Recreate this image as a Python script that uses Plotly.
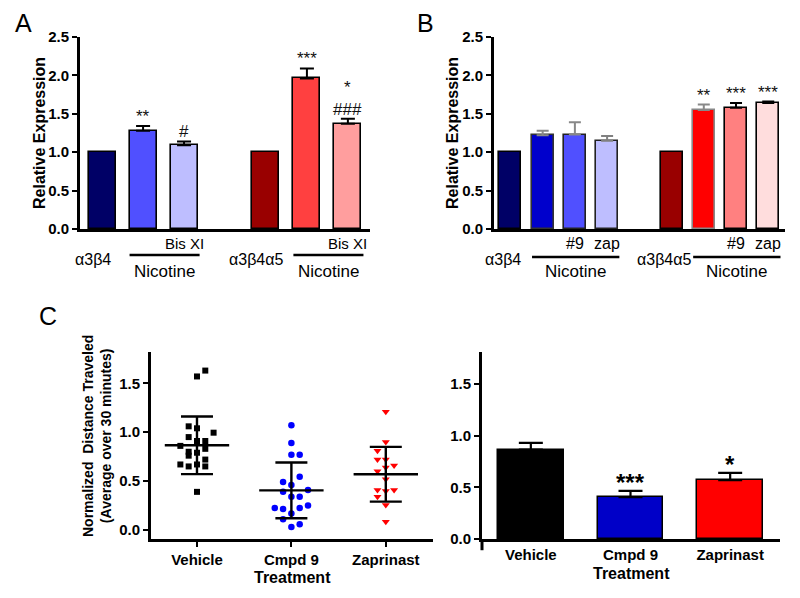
import plotly.graph_objects as go

W, H = 800, 598
FONT = "Liberation Sans, Arial, sans-serif"


def px(x):
    return x / W


def py(y):
    return 1 - y / H


# ---------------- data ----------------
# Panel A
a_groups = ["α3β4", "α3β4α5"]
a_sub = ["", "", "Bis XI", "", "", "Bis XI"]
a_values = [1.00, 1.28, 1.09, 1.00, 1.96, 1.37]
a_err = [0.0, 0.06, 0.05, 0.0, 0.13, 0.065]
a_sig = ["", "**", "#", "", "***", "*<br>###"]

# Panel B
b_groups = ["α3β4", "α3β4α5"]
b_sub = ["", "", "#9", "zap", "", "", "#9", "zap"]
b_values = [1.00, 1.22, 1.23, 1.15, 1.00, 1.55, 1.58, 1.64]
b_err = [0.0, 0.06, 0.16, 0.06, 0.0, 0.07, 0.06, 0.02]
b_sig = ["", "", "", "", "", "**", "***", "***"]

# Panel C
c_cats = ["Vehicle", "Cmpd 9", "Zaprinast"]
veh = [1.57, 1.63, 1.06, 1.04, 0.995, 0.95, 0.91, 0.91, 0.86, 0.83, 0.80, 0.79,
       0.76, 0.72, 0.67, 0.65, 0.67, 0.65, 0.39]
veh_slot = [0, 1, -1, 0, 2, -1, 0, 1, -2, 1, -1, 0, -1, 1, -2, -1, 0, 1, 0]
cmp9 = [1.07, 0.89, 0.77, 0.77, 0.545, 0.49, 0.46, 0.39, 0.41, 0.34, 0.34, 0.225,
        0.215, 0.225, 0.25, 0.17, 0.11, 0.06, 0.03]
cmp9_slot = [0, 0, 0, 1, 1, -1, 0, -1, 2, 0, 1, -2, -1, 1, 2, 0, -1, 1, 0]
zap = [1.21, 0.90, 0.81, 0.72, 0.72, 0.66, 0.64, 0.60, 0.52, 0.41, 0.40, 0.41,
       0.34, 0.255, 0.085]
zap_slot = [0, 0, -1, -1, 0, 1, 0, -1, 0, -1, 0, 1, -1, 0, 0]
c_mean = [0.866, 0.405, 0.57]
c_sd = [0.295, 0.285, 0.28]
c_sem = [0.065, 0.06, 0.07]
c_sig = ["", "***", "*"]

# ---------------- styles ----------------
a_colors = ["#000066", "#5050FF", "#BEBEFF", "#990000", "#FF4040", "#FF9E9E"]
a_edge = ["#000000"] * 6
a_errc = ["#000000"] * 6
b_colors = ["#000066", "#0000CC", "#5050FF", "#BEBEFF", "#990000", "#FF0000", "#FF8080", "#FFDDDD"]
b_edge = ["#000000", "#333333", "#222222", "#222222", "#000000", "#888888", "#000000", "#000000"]
b_errc = ["#000000", "#888888", "#888888", "#808080", "#000000", "#888888", "#000000", "#000000"]
c_bar_colors = ["#000000", "#0000C8", "#FF0000"]
jit = 0.088

fig = go.Figure()


def group_positions(n_groups, n_per):
    return [g * (n_per + 1) + i for g in range(n_groups) for i in range(n_per)]


def add_bar_panel(values, errs, colors, edges, errcs, xa, ya, capw, bw):
    n_per = len(values) // 2
    xs = group_positions(2, n_per)
    for x, v, e, c, ec, erc in zip(xs, values, errs, colors, edges, errcs):
        fig.add_trace(go.Bar(
            x=[x], y=[v], width=bw, xaxis=xa, yaxis=ya,
            marker=dict(color=c, line=dict(color=ec, width=1.6)),
            error_y=dict(type="data", array=[e], arrayminus=[0], symmetric=False,
                         visible=e > 0, color=erc, thickness=2, width=capw),
            showlegend=False, hoverinfo="skip"))
    return xs


xs_a = add_bar_panel(a_values, a_err, a_colors, a_edge, a_errc, "x", "y", 7, 0.66)
xs_b = add_bar_panel(b_values, b_err, b_colors, b_edge, b_errc, "x2", "y2", 6, 0.68)

# Panel C scatter
for i, (vals, slots, sym, col, size) in enumerate([
        (veh, veh_slot, "square", "#000000", 6),
        (cmp9, cmp9_slot, "circle", "#0000FF", 6.5),
        (zap, zap_slot, "triangle-down", "#FF0000", 7)]):
    fig.add_trace(go.Scatter(
        x=[i + s * jit for s in slots], y=vals, mode="markers",
        marker=dict(symbol=sym, color=col, size=size, line=dict(width=0)),
        xaxis="x3", yaxis="y3", showlegend=False, hoverinfo="skip"))

fig.add_trace(go.Scatter(
    x=list(range(len(c_cats))), y=c_mean, mode="markers",
    marker=dict(symbol="line-ew", size=46, color="#000000", line=dict(color="#000000", width=2.4)),
    error_y=dict(type="data", array=c_sd, color="#000000", thickness=2.4, width=16),
    xaxis="x3", yaxis="y3", showlegend=False, hoverinfo="skip"))

# Panel C bars
fig.add_trace(go.Bar(
    x=list(range(len(c_cats))), y=c_mean, width=0.66,
    marker=dict(color=c_bar_colors, line=dict(color="#000000", width=1.5)),
    error_y=dict(type="data", array=c_sem, arrayminus=[0] * 3, symmetric=False,
                 color="#000000", thickness=2.2, width=12),
    xaxis="x4", yaxis="y4", showlegend=False, hoverinfo="skip"))

# ---------------- axes ----------------
tickf = dict(family=FONT, size=15, color="#000000", weight="bold")
common_y = dict(showline=True, linecolor="#000000", linewidth=3, ticks="outside",
                ticklen=5, tickwidth=2, tickcolor="#000000", showgrid=False,
                zeroline=False, tickfont=tickf, tickformat=".1f", automargin=False)
common_x = dict(showline=True, linecolor="#000000", linewidth=3, showgrid=False,
                zeroline=False, automargin=False)
cat_font = dict(family=FONT, size=15, color="#000000", weight="bold")

fig.update_layout(
    width=W, height=H, margin=dict(l=0, r=0, t=0, b=0, pad=0, autoexpand=False),
    paper_bgcolor="white", plot_bgcolor="white", bargap=0,
    xaxis=dict(domain=[px(80), px(370)], range=[-0.54, 6.54], showticklabels=False,
               ticks="", anchor="y", **common_x),
    yaxis=dict(domain=[py(229), py(37)], range=[0, 2.5], tickvals=[0, 0.5, 1, 1.5, 2, 2.5],
               anchor="x", **common_y),
    xaxis2=dict(domain=[px(494), px(785)], range=[-0.51, 8.52], showticklabels=False,
                ticks="", anchor="y2", **common_x),
    yaxis2=dict(domain=[py(229), py(37)], range=[0, 2.5], tickvals=[0, 0.5, 1, 1.5, 2, 2.5],
                anchor="x2", **common_y),
    xaxis3=dict(domain=[px(151), px(433)], range=[-0.487, 2.5], tickvals=[0, 1, 2],
                ticktext=c_cats, ticks="outside", ticklen=5, tickwidth=2, tickcolor="#000000",
                tickfont=cat_font, anchor="y3", **common_x),
    yaxis3=dict(domain=[py(539), py(352)], range=[-0.092, 1.82], tickvals=[0, 0.5, 1, 1.5],
                anchor="x3", **common_y),
    xaxis4=dict(domain=[px(482), px(780)], range=[-0.49, 2.5], tickvals=[0, 1, 2],
                ticktext=c_cats, ticks="", tickfont=cat_font, anchor="y4", **common_x),
    yaxis4=dict(domain=[py(539), py(352)], range=[0, 1.81], tickvals=[0, 0.5, 1, 1.5],
                anchor="x4", **common_y),
)

# extension of the right C y axis below its x axis
fig.add_shape(type="line", xref="x4 domain", yref="y4 domain", x0=0, x1=0, y0=0, y1=-0.06,
              line=dict(color="#000000", width=3))

ann = []
lab_font = dict(family=FONT, size=16, color="#000000")
sig_font = dict(family=FONT, size=17, color="#111111")


def under_labels(xs, subs, groups, xa, nicotine_y, line_y, sub_y, grp_y, sub_size):
    n_per = len(xs) // 2
    for x, s in zip(xs, subs):
        if s:
            ann.append(dict(x=x, y=py(sub_y), xref=xa, yref="paper", text=s, showarrow=False,
                            font=dict(family=FONT, size=sub_size, color="#000000"),
                            xanchor="center", yanchor="middle"))
    for g in range(2):
        gx = xs[g * n_per: (g + 1) * n_per]
        ann.append(dict(x=gx[0] - 0.22, y=py(grp_y), xref=xa, yref="paper", text=groups[g],
                        showarrow=False, font=lab_font, xanchor="center", yanchor="middle"))
        x0, x1 = gx[1] - 0.33, gx[-1] + 0.38
        fig.add_shape(type="line", xref=xa, yref="paper", x0=x0, x1=x1,
                      y0=py(line_y), y1=py(line_y), line=dict(color="#000000", width=2.4))
        ann.append(dict(x=(x0 + x1) / 2, y=py(nicotine_y), xref=xa, yref="paper",
                        text="Nicotine", showarrow=False, font=dict(family=FONT, size=17, color="#000000"),
                        xanchor="center", yanchor="middle"))


under_labels(xs_a, a_sub, a_groups, "x", 271, 255, 243, 260, 15)
under_labels(xs_b, b_sub, b_groups, "x2", 272, 257, 243, 259, 16)

for x, v, e, s in zip(xs_a, a_values, a_err, a_sig):
    if s:
        ann.append(dict(x=x, y=v + e, xref="x", yref="y", text=s, showarrow=False,
                        font=sig_font, xanchor="center", yanchor="bottom", yshift=-2))
for x, v, e, s in zip(xs_b, b_values, b_err, b_sig):
    if s:
        ann.append(dict(x=x, y=v + e, xref="x2", yref="y2", text=s, showarrow=False,
                        font=sig_font, xanchor="center", yanchor="bottom", yshift=-2))
for i, (v, e, s) in enumerate(zip(c_mean, c_sem, c_sig)):
    if s:
        ann.append(dict(x=i, y=v + e, xref="x4", yref="y4", text=s, showarrow=False,
                        font=dict(family=FONT, size=24, color="#000000", weight="bold"),
                        xanchor="center", yanchor="bottom", yshift=-7))

title_font = dict(family=FONT, size=16, color="#000000", weight="bold")
pap = dict(showarrow=False, xanchor="center", yanchor="middle", xref="paper", yref="paper")
rot = dict(textangle=-90, **pap)
bold16 = dict(family=FONT, size=16, color="#000000", weight="bold")
letter = dict(family=FONT, size=25, color="#000000")
ann += [
    dict(x=px(40), y=py(133), text="Relative Expression", font=title_font, **rot),
    dict(x=px(453), y=py(133), text="Relative Expression", font=title_font, **rot),
    dict(x=px(97), y=py(436),
         text="Normalized  Distance Traveled<br>(Average over 30 minutes)",
         font=dict(family=FONT, size=14, color="#000000", weight="bold"), **rot),
    dict(x=px(292), y=py(577), text="Treatment", font=bold16, **pap),
    dict(x=px(631), y=py(573), text="Treatment", font=bold16, **pap),
    dict(x=px(23), y=py(23), text="A", font=letter, **pap),
    dict(x=px(425), y=py(23), text="B", font=letter, **pap),
    dict(x=px(48), y=py(316), text="C", font=letter, **pap),
]
fig.update_layout(annotations=ann)

fig.write_html("out.html", config={"displayModeBar": False},
               post_script="document.body.style.margin='0';document.body.style.padding='0';")
